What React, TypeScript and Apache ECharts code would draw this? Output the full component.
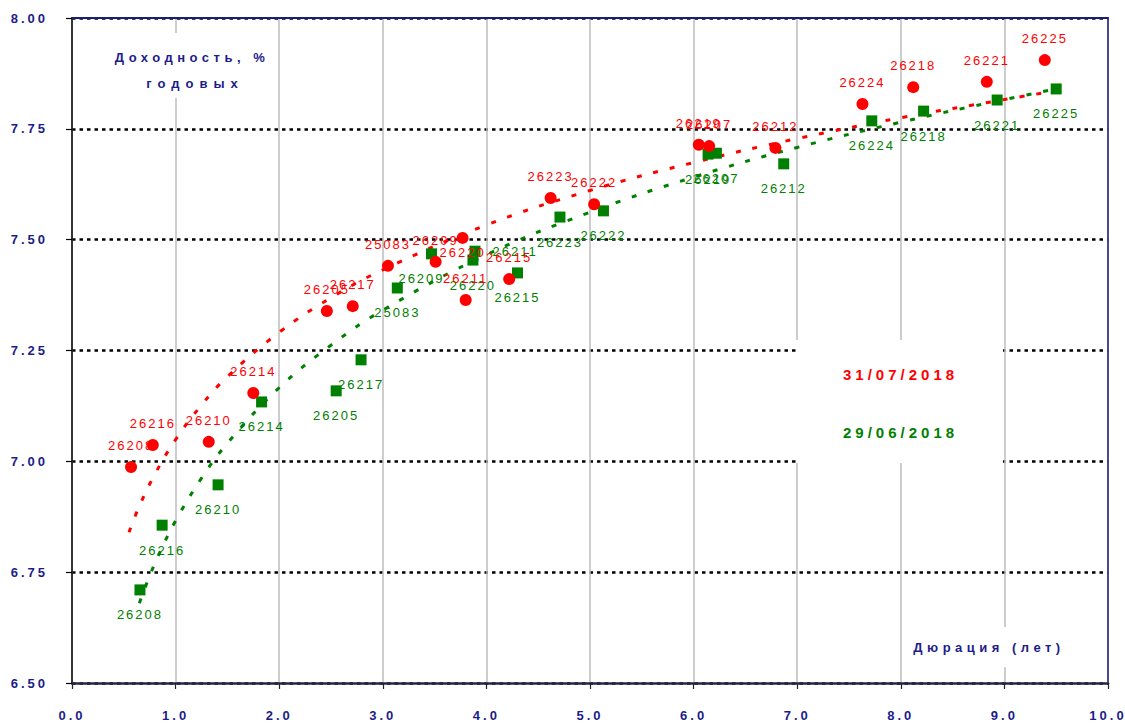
import React, { useEffect, useRef } from "react";
import * as echarts from "echarts";

// ---- data ----
const bondNames = [
  "26208", "26216", "26210", "26214", "26205", "26217", "25083", "26209", "26220", "26211",
  "26215", "26223", "26222", "26219", "26207", "26212", "26224", "26218", "26221", "26225",
];

// 31/07/2018 (red)
const julDuration = [0.57, 0.78, 1.32, 1.75, 2.46, 2.71, 3.05, 3.51, 3.77, 3.8, 4.22, 4.62, 5.04, 6.05, 6.15, 6.79, 7.63, 8.12, 8.83, 9.39];
const julYield = [6.987, 7.037, 7.044, 7.154, 7.339, 7.35, 7.441, 7.45, 7.504, 7.364, 7.411, 7.594, 7.58, 7.714, 7.711, 7.707, 7.806, 7.844, 7.856, 7.905];

// 29/06/2018 (green)
const junDuration = [0.656, 0.87, 1.41, 1.83, 2.55, 2.79, 3.14, 3.47, 3.87, 3.89, 4.3, 4.71, 5.13, 6.14, 6.22, 6.87, 7.72, 8.22, 8.93, 9.5];
const junYield = [6.71, 6.856, 6.947, 7.134, 7.159, 7.229, 7.391, 7.468, 7.454, 7.474, 7.425, 7.551, 7.565, 7.693, 7.695, 7.671, 7.768, 7.79, 7.815, 7.84];

// trend curves
const julTrendX = [0.55, 0.65, 0.8, 1.0, 1.25, 1.5, 2, 2.5, 3, 4, 5, 6, 7, 8, 9, 9.4];
const julTrendY = [6.84, 6.899, 6.971, 7.049, 7.127, 7.191, 7.291, 7.369, 7.432, 7.533, 7.611, 7.674, 7.728, 7.775, 7.816, 7.832];
const junTrendX = [0.65, 0.75, 0.85, 1.0, 1.25, 1.5, 2, 2.5, 3, 4, 5, 6, 7, 8, 9, 9.5];
const junTrendY = [6.68, 6.742, 6.796, 6.866, 6.962, 7.041, 7.166, 7.262, 7.341, 7.466, 7.562, 7.641, 7.708, 7.765, 7.816, 7.84];

const seriesJul = "31/07/2018";
const seriesJun = "29/06/2018";
const yTitle1 = "Доходность, %";
const yTitle2 = "годовых";
const xTitle = "Дюрация (лет)";

const RED = "#ff0000";
const GREEN = "#008000";
const NAVY = "#1c1c8a";
const FONT = "'Liberation Sans', Arial, sans-serif";

const julLabelTweaks: Record<string, any> = {
  "26220": { position: "bottom", distance: 2 },
};
const junLabelTweaks: Record<string, any> = {
  "26211": { position: "right", distance: 12 },
  "26209": { offset: [-10, 0] },
};

function points(xs: number[], ys: number[], tweaks: Record<string, any>) {
  return bondNames.map((n, i) => {
    const item: any = { name: n, value: [xs[i], ys[i]] };
    if (tweaks[n]) item.label = tweaks[n];
    return item;
  });
}

function curve(xs: number[], ys: number[]) {
  return xs.map((x, i) => [x, ys[i]]);
}

export default function App() {
  const ref = useRef<HTMLDivElement>(null);

  useEffect(() => {
    const el = ref.current!;
    const chart = echarts.init(el, null, { renderer: "svg" });

    const option: any = {
      animation: false,
      backgroundColor: "#ffffff",
      grid: { left: 72, top: 18, right: 17, bottom: 41, containLabel: false },
      legend: {
        orient: "vertical",
        left: 833,
        top: 362,
        itemGap: 43,
        itemWidth: 0,
        itemHeight: 0,
        icon: "rect",
        selectedMode: false,
        itemStyle: { opacity: 0 },
        textStyle: { fontFamily: FONT, fontWeight: "bold", fontSize: 15 },
        data: [
          { name: seriesJul, textStyle: { color: RED } },
          { name: seriesJun, textStyle: { color: GREEN } },
        ],
        z: 120,
      },
      xAxis: [
        {
          type: "value",
          min: 0,
          max: 10,
          interval: 1,
          axisLine: { show: true, onZero: false, lineStyle: { color: "#26264a", width: 2.5 } },
          axisTick: { show: true, length: 6, lineStyle: { color: "#222", width: 1.2 } },
          axisLabel: {
            margin: 26,
            color: NAVY,
            fontFamily: FONT,
            fontWeight: "bold",
            fontSize: 13,
            formatter: (v: number) => v.toFixed(1),
          },
          splitLine: { show: true, lineStyle: { color: "#bdbdbd", width: 1.5 } },
        },
        {
          type: "value",
          position: "top",
          min: 0,
          max: 10,
          interval: 1,
          axisLine: { show: true, onZero: false, lineStyle: { color: "#1c1c7a", width: 2 } },
          axisTick: { show: false },
          axisLabel: { show: false },
          splitLine: { show: false },
        },
      ],
      yAxis: [
        {
          type: "value",
          min: 6.5,
          max: 8,
          interval: 0.25,
          axisLine: { show: true, onZero: false, lineStyle: { color: "#000", width: 1.5 } },
          axisTick: { show: true, length: 6, lineStyle: { color: "#000", width: 1.2 } },
          axisLabel: {
            margin: 24,
            color: NAVY,
            fontFamily: FONT,
            fontWeight: "bold",
            fontSize: 13,
            formatter: (v: number) => v.toFixed(2),
          },
          splitLine: { show: true, lineStyle: { color: "#000", width: 2.6, type: [3.5, 4] } },
        },
        {
          type: "value",
          position: "right",
          min: 6.5,
          max: 8,
          interval: 0.25,
          axisLine: { show: true, onZero: false, lineStyle: { color: "#1c1c7a", width: 1.5 } },
          axisTick: { show: false },
          axisLabel: { show: false },
          splitLine: { show: false },
        },
      ],
      series: [
        {
          name: "trend " + seriesJun,
          type: "line",
          smooth: 0.4,
          showSymbol: false,
          silent: true,
          data: curve(junTrendX, junTrendY),
          lineStyle: { color: GREEN, width: 3, type: [5, 12] },
          z: 3,
        },
        {
          name: "trend " + seriesJul,
          type: "line",
          smooth: 0.4,
          showSymbol: false,
          silent: true,
          data: curve(julTrendX, julTrendY),
          lineStyle: { color: RED, width: 3, type: [5, 12] },
          z: 3,
        },
        {
          name: seriesJun,
          type: "scatter",
          symbol: "rect",
          symbolSize: 11,
          itemStyle: { color: GREEN, opacity: 1 },
          data: points(junDuration, junYield, junLabelTweaks),
          label: {
            show: true,
            position: "bottom",
            distance: 13,
            color: GREEN,
            fontFamily: FONT,
            fontSize: 13,
            formatter: (p: any) => p.name,
          },
          z: 5,
        },
        {
          name: seriesJul,
          type: "scatter",
          symbol: "circle",
          symbolSize: 12,
          itemStyle: { color: RED, opacity: 1 },
          data: points(julDuration, julYield, julLabelTweaks),
          label: {
            show: true,
            position: "top",
            distance: 9,
            color: RED,
            fontFamily: FONT,
            fontSize: 13,
            formatter: (p: any) => p.name,
          },
          z: 6,
        },
      ],
      graphic: [
        { type: "rect", z: 100, shape: { x: 110, y: 33, width: 165, height: 65 }, style: { fill: "#ffffff" } },
        {
          type: "text", z: 101, x: 192, y: 57,
          style: { text: yTitle1, fill: NAVY, font: `bold 13px ${FONT}`, align: "center", verticalAlign: "middle" },
        },
        {
          type: "text", z: 101, x: 195, y: 83,
          style: { text: yTitle2, fill: NAVY, font: `bold 13px ${FONT}`, align: "center", verticalAlign: "middle" },
        },
        { type: "rect", z: 100, shape: { x: 796, y: 340, width: 207, height: 123 }, style: { fill: "#ffffff" } },
        { type: "rect", z: 100, shape: { x: 906, y: 627, width: 162, height: 40 }, style: { fill: "#ffffff" } },
        {
          type: "text", z: 101, x: 989, y: 647,
          style: { text: xTitle, fill: NAVY, font: `bold 13px ${FONT}`, align: "center", verticalAlign: "middle" },
        },
      ],
    };

    chart.setOption(option);

    const spacing = () => {
      el.querySelectorAll("text").forEach((t) => {
        const s = (t.textContent || "").trim();
        let ls = 4.5;
        if (/^\d{5}$/.test(s)) ls = 2;
        else if (/^\d+\.\d+$/.test(s)) ls = 3;
        else if (s.includes("/")) ls = 4;
        else if (s === yTitle2) ls = 6;
        t.setAttribute("letter-spacing", String(ls));
      });
    };
    chart.on("finished", spacing);
    spacing();

    return () => {
      chart.dispose();
    };
  }, []);

  return (
    <div
      ref={ref}
      style={{ position: "fixed", left: 0, top: 0, width: 1125, height: 724, background: "#ffffff" }}
    />
  );
}
